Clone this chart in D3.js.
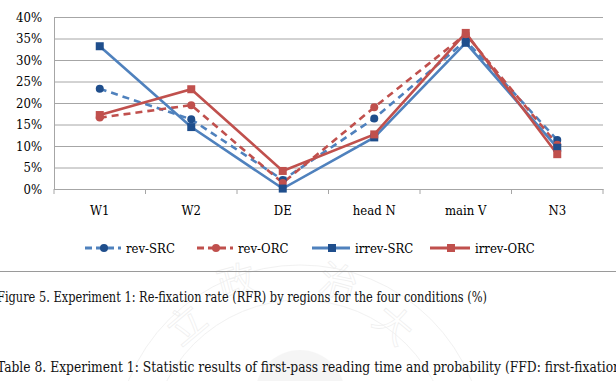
<!DOCTYPE html>
<html>
<head>
<meta charset="utf-8">
<script src="https://cdn.jsdelivr.net/npm/d3@7"></script>
<style>
    body { margin: 0; background: #fff; }
    svg { display: block; }
    svg text { font-family: 'DejaVu Serif Condensed', 'DejaVu Serif', serif; }
    .axis text { font-size: 13px; fill: #000; }
    .grid line { stroke: #a6a6a6; stroke-width: 1; }
    .grid path { display: none; }
    .caption { font-size: 14px; fill: #111; }
</style>
</head>
<body>
<div id="chart"></div>
<script>

// DATA

var categories = [ 'W1', 'W2', 'DE', 'head N', 'main V', 'N3' ];
var seriesNames = [ 'rev-SRC', 'rev-ORC', 'irrev-SRC', 'irrev-ORC' ];

var revSRC   = [ 23.3, 16.2, 2.1, 16.4, 34.5, 11.4 ];
var revORC   = [ 16.6, 19.5, 1.4, 19.0, 36.0, 10.3 ];
var irrevSRC = [ 33.2, 14.4, 0.1, 12.0, 34.0, 9.6 ];
var irrevORC = [ 17.2, 23.2, 4.2, 12.7, 36.3, 8.1 ];

var yTicks = [ 0, 5, 10, 15, 20, 25, 30, 35, 40 ];

var captionText = 'Figure 5. Experiment 1: Re-fixation rate (RFR) by regions for the four conditions (%)';
var tableText = 'Table 8. Experiment 1: Statistic results of first-pass reading time and probability (FFD: first-fixation';

// STYLE per series (blue / red, dashed = reversible)
var series = [
    { name: seriesNames[0], values: revSRC,   line: '#4f81bd', mark: '#1f4e8c', dash: '7,5', shape: 'circle' },
    { name: seriesNames[1], values: revORC,   line: '#c0504d', mark: '#c0504d', dash: '7,5', shape: 'circle' },
    { name: seriesNames[2], values: irrevSRC, line: '#4f81bd', mark: '#1f4e8c', dash: null,  shape: 'square' },
    { name: seriesNames[3], values: irrevORC, line: '#c0504d', mark: '#c0504d', dash: null,  shape: 'square' }
];

var W = 616, H = 381;
var margin = { left: 54, right: 13, top: 17, bottom: 192 };

var svg = d3.select( '#chart' ).append( 'svg' )
            .attr( 'width', W )
            .attr( 'height', H );

// Faint watermark seal behind the caption
var wm = svg.append( 'g' ).attr( 'opacity', 0.13 ).attr( 'fill', 'none' ).attr( 'stroke', '#999' );
wm.append( 'circle' ).attr( 'cx', 300 ).attr( 'cy', 450 ).attr( 'r', 185 );
wm.append( 'circle' ).attr( 'cx', 300 ).attr( 'cy', 450 ).attr( 'r', 150 );
wm.append( 'circle' ).attr( 'cx', 300 ).attr( 'cy', 395 ).attr( 'r', 45 ).attr( 'fill', '#bbb' ).attr( 'stroke', 'none' );
var wmChars = [ [ '立', 195, 335, -40 ], [ '政', 240, 295, -15 ], [ '治', 335, 295, 15 ], [ '大', 385, 335, 40 ] ];
wmChars.forEach( function( c ) {
    wm.append( 'text' )
        .attr( 'transform', 'translate(' + c[1] + ',' + c[2] + ') rotate(' + c[3] + ')' )
        .attr( 'text-anchor', 'middle' )
        .style( 'font-family', '"Noto Sans CJK TC"' )
        .attr( 'font-size', 38 )
        .attr( 'fill', 'none' )
        .attr( 'stroke', '#888' )
        .attr( 'stroke-width', 0.8 )
        .text( c[0] );
} );

var width = W - margin.left - margin.right;
var height = H - margin.top - margin.bottom;

var g = svg.append( 'g' )
            .attr( 'transform', 'translate(' + margin.left + ',' + margin.top + ')' );

var xScale = d3.scaleBand()
                .domain( categories )
                .range( [0, width] );
var yScale = d3.scaleLinear()
                .domain( [0, 40] )
                .range( [height, 0] );

function xPos( i ) {
    return xScale( categories[i] ) + xScale.bandwidth() / 2;
}

// Gridlines
g.append( 'g' )
    .attr( 'class', 'grid' )
    .call( d3.axisLeft( yScale ).tickValues( yTicks ).tickSize( -width ).tickFormat( '' ) );

// Y axis labels
var yAxis = g.append( 'g' )
    .attr( 'class', 'axis' )
    .call( d3.axisLeft( yScale ).tickValues( yTicks ).tickSize( 0 ).tickPadding( 12 )
            .tickFormat( function( d ) { return d + '%'; } ) );
yAxis.select( '.domain' ).attr( 'stroke', '#a6a6a6' );

// X axis with category ticks
var xAxis = g.append( 'g' )
    .attr( 'class', 'axis' )
    .attr( 'transform', 'translate(0,' + height + ')' )
    .call( d3.axisBottom( xScale ).tickSize( 0 ).tickPadding( 17 ) );
xAxis.select( '.domain' ).attr( 'stroke', '#a6a6a6' );
// boundary ticks between categories
xAxis.selectAll( '.sep' )
    .data( d3.range( categories.length + 1 ) )
    .enter().append( 'line' )
    .attr( 'class', 'sep' )
    .attr( 'x1', function( i ) { return i * xScale.bandwidth(); } )
    .attr( 'x2', function( i ) { return i * xScale.bandwidth(); } )
    .attr( 'y1', 0 )
    .attr( 'y2', 5 )
    .attr( 'stroke', '#a6a6a6' );

// Lines
var line = d3.line()
    .x( function( d, i ) { return xPos( i ); } )
    .y( function( d ) { return yScale( d ); } );

series.forEach( function( s ) {
    g.append( 'path' )
        .datum( s.values )
        .attr( 'fill', 'none' )
        .attr( 'stroke', s.line )
        .attr( 'stroke-width', 2.6 )
        .attr( 'stroke-dasharray', s.dash )
        .attr( 'd', line );
} );

function drawMarker( sel, s, x, y ) {
    if ( s.shape === 'circle' ) {
        sel.append( 'circle' )
            .attr( 'cx', x ).attr( 'cy', y ).attr( 'r', 4 )
            .attr( 'fill', s.mark );
    } else {
        sel.append( 'rect' )
            .attr( 'x', x - 4 ).attr( 'y', y - 4 )
            .attr( 'width', 8 ).attr( 'height', 8 )
            .attr( 'fill', s.mark );
    }
}

series.forEach( function( s ) {
    var mg = g.append( 'g' );
    s.values.forEach( function( v, i ) {
        drawMarker( mg, s, xPos( i ), yScale( v ) );
    } );
} );

// Legend
var legendX = [ 85, 197, 312, 430 ];
var legendLen = [ 36, 36, 38, 40 ];
var legendY = 248;
var legend = svg.append( 'g' ).attr( 'class', 'axis' );
series.forEach( function( s, i ) {
    var lg = legend.append( 'g' ).attr( 'transform', 'translate(' + legendX[i] + ',' + legendY + ')' );
    lg.append( 'line' )
        .attr( 'x1', 0 ).attr( 'x2', legendLen[i] )
        .attr( 'y1', 0 ).attr( 'y2', 0 )
        .attr( 'stroke', s.line )
        .attr( 'stroke-width', 2.8 )
        .attr( 'stroke-dasharray', s.dash ? '7,4' : null );
    drawMarker( lg, s, legendLen[i] / 2 + 1, 0 );
    lg.append( 'text' )
        .attr( 'x', legendLen[i] + 5 )
        .attr( 'y', 4.5 )
        .text( s.name );
} );

// Page separator and captions
svg.append( 'line' )
    .attr( 'x1', 0 ).attr( 'x2', W )
    .attr( 'y1', 271.5 ).attr( 'y2', 271.5 )
    .attr( 'stroke', '#9a9a9a' )
    .attr( 'stroke-width', 1 );

// captions are squeezed to the width the serif page font takes
svg.append( 'text' )
    .attr( 'class', 'caption' )
    .attr( 'x', -3 )
    .attr( 'y', 302 )
    .attr( 'textLength', 490 )
    .attr( 'lengthAdjust', 'spacingAndGlyphs' )
    .text( captionText );

svg.append( 'text' )
    .attr( 'class', 'caption' )
    .attr( 'x', -3 )
    .attr( 'y', 372 )
    .attr( 'textLength', 624 )
    .attr( 'lengthAdjust', 'spacingAndGlyphs' )
    .text( tableText );

</script>
</body>
</html>
